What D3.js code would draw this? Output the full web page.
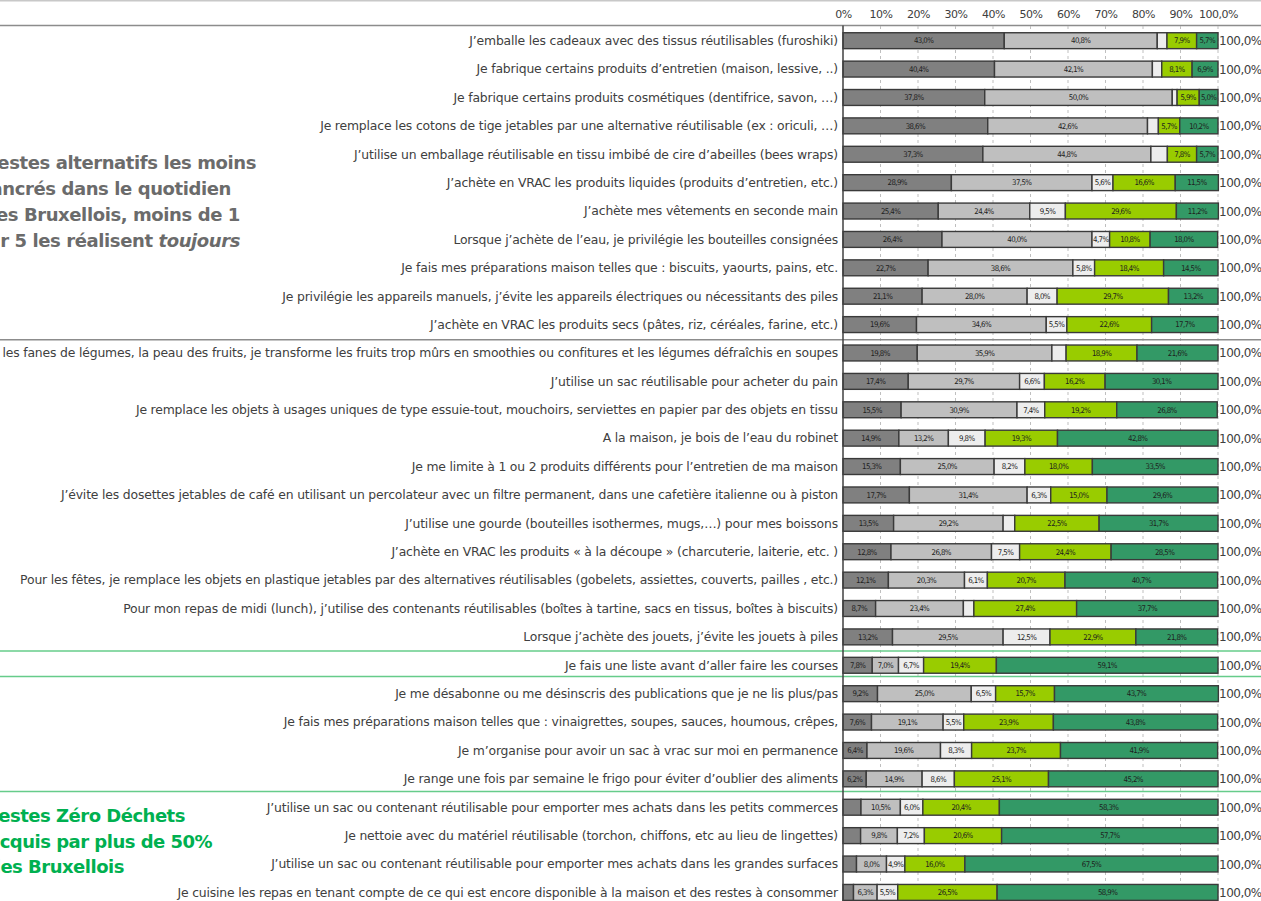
<!DOCTYPE html>
<html><head><meta charset="utf-8">
<script src="https://cdn.jsdelivr.net/npm/d3@7"></script>
<style>body{margin:0;background:#fff;overflow:hidden}svg{display:block}</style>
</head><body><svg id="c" width="1261" height="901"></svg>
<script>
const categories = [
 "J\u2019emballe les cadeaux avec des tissus réutilisables (furoshiki)",
 "Je fabrique certains produits d\u2019entretien (maison, lessive, ..)",
 "Je fabrique certains produits cosmétiques (dentifrice, savon, …)",
 "Je remplace les cotons de tige jetables par une alternative réutilisable (ex : oriculi, …)",
 "J\u2019utilise un emballage réutilisable en tissu imbibé de cire d\u2019abeilles (bees wraps)",
 "J\u2019achète en VRAC les produits liquides (produits d\u2019entretien, etc.)",
 "J\u2019achète mes vêtements en seconde main",
 "Lorsque j\u2019achète de l\u2019eau, je privilégie  les bouteilles consignées",
 "Je fais mes préparations maison telles que : biscuits, yaourts, pains, etc.",
 "Je privilégie les appareils manuels, j\u2019évite les appareils électriques ou nécessitants des piles",
 "J\u2019achète en VRAC les produits secs (pâtes, riz, céréales, farine, etc.)",
 "les fanes de légumes, la peau des fruits, je transforme les fruits trop mûrs en smoothies ou confitures et les légumes défraîchis en soupes",
 "J\u2019utilise un sac réutilisable pour acheter du pain",
 "Je remplace les objets à usages uniques de type essuie-tout, mouchoirs, serviettes en papier par des objets en tissu",
 "A la maison, je bois de l\u2019eau du robinet",
 "Je me limite à 1 ou 2 produits différents pour l\u2019entretien de ma maison",
 "J\u2019évite les dosettes jetables de café en utilisant un percolateur avec un filtre permanent, dans une cafetière italienne ou à piston",
 "J\u2019utilise une gourde  (bouteilles isothermes, mugs,…) pour mes boissons",
 "J\u2019achète en VRAC les produits « à la découpe » (charcuterie, laiterie, etc. )",
 "Pour les fêtes, je remplace les objets en plastique jetables par des alternatives réutilisables (gobelets, assiettes, couverts, pailles , etc.)",
 "Pour mon repas de midi (lunch), j\u2019utilise des contenants réutilisables (boîtes à tartine, sacs en tissus, boîtes à biscuits)",
 "Lorsque j\u2019achète des jouets, j\u2019évite les jouets à piles",
 "Je fais une liste avant d\u2019aller faire les courses",
 "Je me désabonne ou me désinscris des publications que je ne lis plus/pas",
 "Je fais mes préparations maison telles que : vinaigrettes, soupes, sauces, houmous, crêpes,",
 "Je m\u2019organise pour avoir un sac à vrac sur moi en permanence",
 "Je range une fois par semaine le frigo pour éviter d\u2019oublier des aliments",
 "J\u2019utilise un  sac ou contenant réutilisable pour emporter mes achats dans les petits commerces",
 "Je nettoie avec du matériel réutilisable (torchon, chiffons, etc au lieu de lingettes)",
 "J\u2019utilise un  sac ou contenant réutilisable pour emporter mes achats dans les grandes surfaces",
 "Je cuisine les repas en tenant compte de ce qui est encore disponible à la maison et des restes à consommer"
];
const jamais    = [43.0,40.4,37.8,38.6,37.3,28.9,25.4,26.4,22.7,21.1,19.6,19.8,17.4,15.5,14.9,15.3,17.7,13.5,12.8,12.1,8.7,13.2,7.8,9.2,7.6,6.4,6.2,4.8,4.7,3.6,2.8];
const rarement  = [40.8,42.1,50.0,42.6,44.8,37.5,24.4,40.0,38.6,28.0,34.6,35.9,29.7,30.9,13.2,25.0,31.4,29.2,26.8,20.3,23.4,29.5,7.0,25.0,19.1,19.6,14.9,10.5,9.8,8.0,6.3];
const parfois   = [2.6,2.5,1.3,2.9,4.4,5.6,9.5,4.7,5.8,8.0,5.5,3.8,6.6,7.4,9.8,8.2,6.3,3.1,7.5,6.1,2.8,12.5,6.7,6.5,5.5,8.3,8.6,6.0,7.2,4.9,5.5];
const souvent   = [7.9,8.1,5.9,5.7,7.8,16.6,29.6,10.8,18.4,29.7,22.6,18.9,16.2,19.2,19.3,18.0,15.0,22.5,24.4,20.7,27.4,22.9,19.4,15.7,23.9,23.7,25.1,20.4,20.6,16.0,26.5];
const toujours  = [5.7,6.9,5.0,10.2,5.7,11.5,11.2,18.0,14.5,13.2,17.7,21.6,30.1,26.8,42.8,33.5,29.6,31.7,28.5,40.7,37.7,21.8,59.1,43.7,43.8,41.9,45.2,58.3,57.7,67.5,58.9];
const totals    = [100,100,100,100,100,100,100,100,100,100,100,100,100,100,100,100,100,100,100,100,100,100,100,100,100,100,100,100,100,100,100];
// segments shown without a value label in the reference: [row, series]
const unlabeled = [[0,2],[1,2],[2,2],[3,2],[4,2],[11,2],[17,2],[20,2],[27,0],[28,0],[29,0],[30,0]];
const tickValues = [0,10,20,30,40,50,60,70,80,90,100];
const tickLabels = ["0%","10%","20%","30%","40%","50%","60%","70%","80%","90%","100,0%"];
const seriesKeys = ["jamais","rarement","parfois","souvent","toujours"];
const greyNote = ["Gestes alternatifs les moins","ancrés dans le quotidien","des Bruxellois, moins de 1","sur 5 les réalisent |toujours"];
const greenNote = ["Gestes Zéro Déchets","acquis par plus de 50%","des Bruxellois"];

const colors = ["#808080","#bfbfbf","#ededed","#99cc00","#339966"];
const W = 1261, H = 901;
const svg = d3.select("#c");
const fmt = v => d3.format(".1f")(v).replace(".", ",") + "%";

const rows = categories.map((c,i) => ({i: String(i), total: totals[i], jamais: jamais[i], rarement: rarement[i], parfois: parfois[i], souvent: souvent[i], toujours: toujours[i]}));
const x = d3.scaleLinear().domain([0,100]).range([843,1218]);
const y = d3.scaleBand().domain(rows.map(r => r.i)).range([26.5, 906.6]).paddingInner(0.44).paddingOuter(0.22);
const step = y.step();

// top frame lines
svg.append("line").attr("x1",0).attr("x2",W).attr("y1",0.8).attr("y2",0.8).attr("stroke","#c8c8c8").attr("stroke-width",1.5);
svg.append("line").attr("x1",0).attr("x2",W).attr("y1",25.5).attr("y2",25.5).attr("stroke","#8c8c8c").attr("stroke-width",1.5);

// gridlines
svg.append("g").selectAll("line").data(tickValues.slice(1)).join("line")
  .attr("x1", d => x(d)).attr("x2", d => x(d)).attr("y1", 26).attr("y2", H)
  .attr("stroke", "#bfbfbf").attr("stroke-width", 1).attr("stroke-dasharray", "3,3");

// top axis labels
const ax = d3.axisTop(x).tickValues(tickValues).tickSize(0).tickFormat((d,i) => tickLabels[i]);
const axg = svg.append("g").attr("transform","translate(0,21)").call(ax);
axg.select(".domain").remove();
axg.selectAll("text").attr("font-family","'DejaVu Sans', sans-serif").attr("font-size","11px").attr("fill","#404040").attr("letter-spacing","-0.5px");

// section separators
const sep = [[10,"#8c8c8c",1],[21,"#66cc8a",0],[22,"#66cc8a",-3],[26,"#66cc8a",-1.5]];
svg.append("g").selectAll("line").data(sep).join("line")
  .attr("x1",0).attr("x2",W)
  .attr("y1", d => y(String(d[0])) + y.bandwidth() + (step - y.bandwidth())/2 + d[2])
  .attr("y2", d => y(String(d[0])) + y.bandwidth() + (step - y.bandwidth())/2 + d[2])
  .attr("stroke", d => d[1]).attr("stroke-width", 1.5);

// bars
const stacked = d3.stack().keys(seriesKeys)(rows);
const unl = new Set(unlabeled.map(d => d[0] + "_" + d[1]));
const barG = svg.append("g");
stacked.forEach((layer, si) => {
  const g = barG.append("g");
  g.selectAll("rect").data(layer).join("rect")
    .attr("x", d => x(d[0])).attr("width", d => x(d[1]) - x(d[0]))
    .attr("y", d => y(d.data.i)).attr("height", y.bandwidth())
    .attr("fill", colors[si]).attr("stroke", "#3a3a3a").attr("stroke-width", 1.4);
  g.selectAll("text").data(layer.filter(d => !unl.has(d.data.i + "_" + si))).join("text")
    .attr("x", d => (x(d[0]) + x(d[1]))/2).attr("y", d => y(d.data.i) + y.bandwidth()/2 + 2.8)
    .attr("text-anchor","middle").attr("font-family","'DejaVu Sans Condensed','DejaVu Sans',sans-serif")
    .attr("font-size","7.8px").attr("letter-spacing","-0.6px").attr("fill","#1e1e1e")
    .text(d => fmt(d[1]-d[0]));
});

// vertical axis line
svg.append("line").attr("x1",843).attr("x2",843).attr("y1",25.5).attr("y2",H).attr("stroke","#404040").attr("stroke-width",1.5);

// category labels
svg.append("g").selectAll("text").data(rows).join("text")
  .attr("x", 838).attr("y", d => y(d.i) + y.bandwidth()/2 + 4.3)
  .attr("text-anchor","end").attr("font-family","'DejaVu Sans', sans-serif").attr("font-size","12.4px")
  .attr("letter-spacing","-0.17px").attr("fill","#404040")
  .text((d,i) => categories[i]);

// totals
svg.append("g").selectAll("text").data(rows).join("text")
  .attr("x", 1219).attr("y", d => y(d.i) + y.bandwidth()/2 + 4.5)
  .attr("font-family","'DejaVu Sans', sans-serif").attr("font-size","12px").attr("letter-spacing","-0.5px").attr("fill","#404040")
  .text(d => fmt(d.total));

// notes
const greyEnds = [256, 231, 240, 240];
const greyBase = [169, 195, 221, 247];
greyNote.forEach((line, i) => {
  const t = svg.append("text").attr("x", greyEnds[i]).attr("y", greyBase[i]).attr("text-anchor","end")
    .attr("font-family","'DejaVu Sans', sans-serif").attr("font-weight","bold").attr("font-size","18px")
    .attr("letter-spacing","-0.4px").attr("fill","#6b6b6b");
  line.split("|").forEach((part, j) => t.append("tspan").attr("font-style", j ? "italic" : "normal").text(part));
});
const greenStart = [-16, -12, -12];
const greenBase = [822, 848, 873];
greenNote.forEach((line, i) => {
  svg.append("text").attr("x", greenStart[i]).attr("y", greenBase[i])
    .attr("font-family","'DejaVu Sans', sans-serif").attr("font-weight","bold").attr("font-size","18px")
    .attr("letter-spacing","-0.5px").attr("fill","#00b050").text(line);
});
</script></body></html>
